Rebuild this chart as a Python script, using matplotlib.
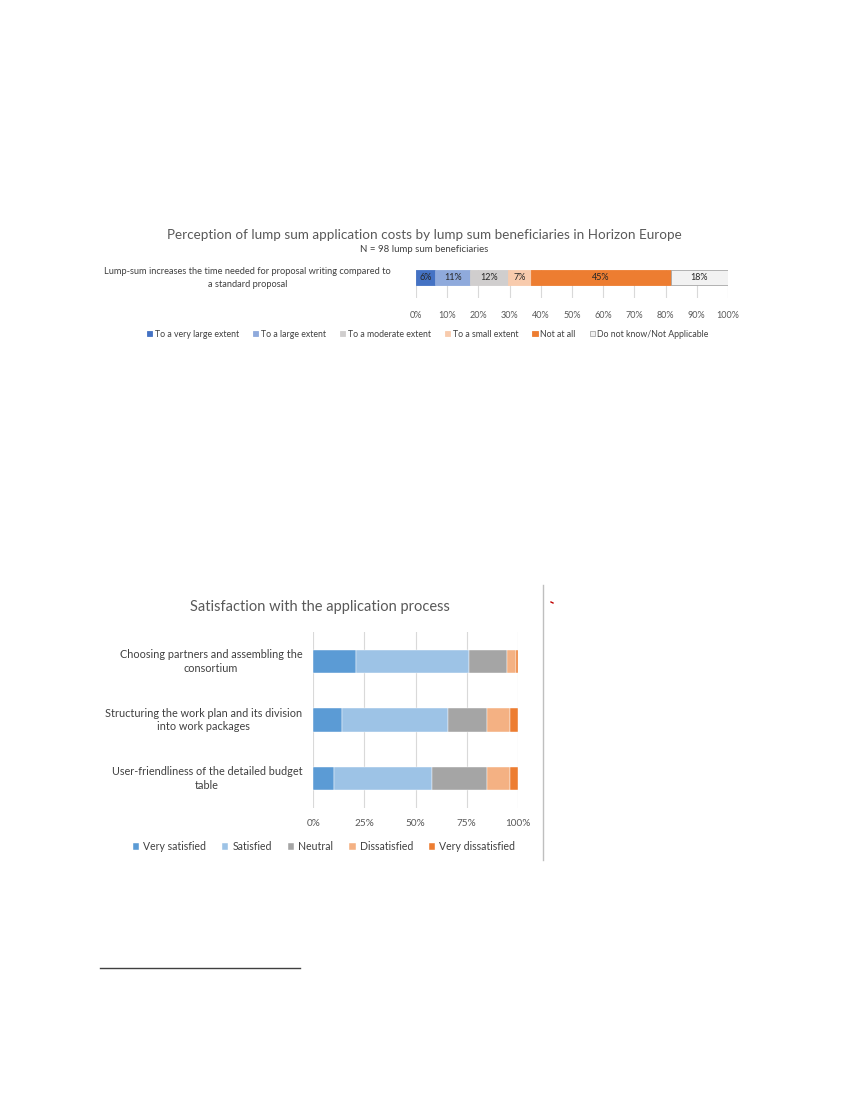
import numpy as np
import matplotlib.pyplot as plt
from matplotlib.lines import Line2D

plt.rcParams['font.family'] = ['Lato', 'DejaVu Sans']

# top chart data (counts out of N = 98)
n_resp = 98
top_item = ["Lump-sum increases the time needed for proposal writing compared to\na standard proposal"]
top_cats = ["To a very large extent", "To a large extent", "To a moderate extent",
            "To a small extent", "Not at all", "Do not know/Not Applicable"]
top_counts = [6, 11, 12, 7, 44, 18]
top_colors = ["#4472C4", "#8FAADC", "#D0CECE", "#F8CBAD", "#ED7D31", "#F2F2F2"]

# bottom chart data (% of respondents)
sat_items = ["Choosing partners and assembling the\nconsortium",
             "Structuring the work plan and its division\ninto work packages",
             "User-friendliness of the detailed budget\ntable"]
sat_cats = ["Very satisfied", "Satisfied", "Neutral", "Dissatisfied", "Very dissatisfied"]
very_satisfied = [21, 14, 10]
satisfied = [55, 52, 48]
neutral = [19, 19, 27]
dissatisfied = [4, 11, 11]
very_dissatisfied = [1, 4, 4]
sat_colors = ["#5B9BD5", "#9DC3E6", "#A5A5A5", "#F4B183", "#ED7D31"]

W, H = 850, 1100
fig = plt.figure(figsize=(W / 100, H / 100), dpi=100)

def fx(x):
    return x / W

def fy(y):
    return 1 - y / H

grey = "#595959"
dark = "#404040"

# ---- top chart ----
ax1 = fig.add_axes([fx(416), fy(298), fx(728 - 416), (298 - 270) / H])
pct = np.array(top_counts) / n_resp * 100
left = 0
for i, (v, c) in enumerate(zip(pct, top_colors)):
    ec = "#A6A6A6" if i == len(pct) - 1 else c
    ax1.barh(0, v, left=left, height=1.0, color=c, edgecolor=ec, linewidth=0.6, zorder=3,
             label=top_cats[i])
    ax1.text(left + v / 2, 0, f"{v:.0f}%", ha="center", va="center", fontsize=6.5,
             color="#262626", zorder=4)
    left += v
ax1.set_xlim(0, 100)
ax1.set_ylim(-1.4, 0.5)
ax1.set_xticks(np.arange(0, 101, 10))
ax1.set_xticklabels([f"{t}%" for t in range(0, 101, 10)])
ax1.tick_params(axis="x", length=0, labelsize=6.5, labelcolor=grey, pad=9)
ax1.set_yticks([])
ax1.grid(axis="x", color="#D9D9D9", linewidth=0.8, zorder=0)
for s in ax1.spines.values():
    s.set_visible(False)

fig.text(fx(424), fy(235), "Perception of lump sum application costs by lump sum beneficiaries in Horizon Europe",
         ha="center", va="center", fontsize=9.7, color=grey)
fig.text(fx(424), fy(250), "N = 98 lump sum beneficiaries", ha="center", va="center",
         fontsize=6.9, color=dark)
fig.text(fx(247.5), fy(278), top_item[0], ha="center", va="center", fontsize=6.7,
         color=dark, multialignment="center", linespacing=1.55)

h1, l1 = ax1.get_legend_handles_labels()
fig.legend(h1, l1, loc="center", bbox_to_anchor=(fx(428), fy(334)), ncol=6, frameon=False,
           fontsize=6.3, handlelength=0.6, handleheight=0.6, handletextpad=0.3,
           columnspacing=1.6, labelcolor=dark)

# ---- bottom chart ----
ax2 = fig.add_axes([fx(313.3), fy(808), fx(517.7 - 313.3), (808 - 632) / H])
y = np.arange(len(sat_items))
series = [very_satisfied, satisfied, neutral, dissatisfied, very_dissatisfied]
left = np.zeros(len(sat_items))
for vals, c, lab in zip(series, sat_colors, sat_cats):
    ax2.barh(y, vals, left=left, height=0.4, color=c, edgecolor="white", linewidth=0.3,
             zorder=3, label=lab)
    left += np.array(vals)
ax2.set_xlim(0, 100)
ax2.set_ylim(2.5, -0.5)
ax2.set_xticks([0, 25, 50, 75, 100])
ax2.set_xticklabels(["0%", "25%", "50%", "75%", "100%"])
ax2.tick_params(axis="x", length=0, labelsize=7.2, labelcolor=grey, pad=8)
ax2.set_yticks([])
ax2.grid(axis="x", color="#D9D9D9", linewidth=0.8, zorder=0)
for s in ax2.spines.values():
    s.set_visible(False)
for yi, lab in zip(y, sat_items):
    ax2.text(-5.3, yi, lab, ha="right", va="center", fontsize=7.8, color=dark,
             multialignment="center", linespacing=1.3)

fig.text(fx(320), fy(607), "Satisfaction with the application process", ha="center",
         va="center", fontsize=10.5, color=grey)
h2, l2 = ax2.get_legend_handles_labels()
fig.legend(h2, l2, loc="center", bbox_to_anchor=(fx(324), fy(847)), ncol=5, frameon=False,
           fontsize=7.6, handlelength=0.6, handleheight=0.6, handletextpad=0.4,
           columnspacing=1.5, labelcolor=dark)

# page decorations
fig.add_artist(Line2D([fx(543), fx(543)], [fy(585), fy(860)], color="#BFBFBF", linewidth=1))
fig.add_artist(Line2D([fx(551), fx(553)], [fy(602), fy(603)], color="#C00000", linewidth=1))
fig.add_artist(Line2D([fx(100), fx(300)], [fy(968), fy(968)], color="#404040", linewidth=1))

fig.savefig("out.png", dpi=100)
